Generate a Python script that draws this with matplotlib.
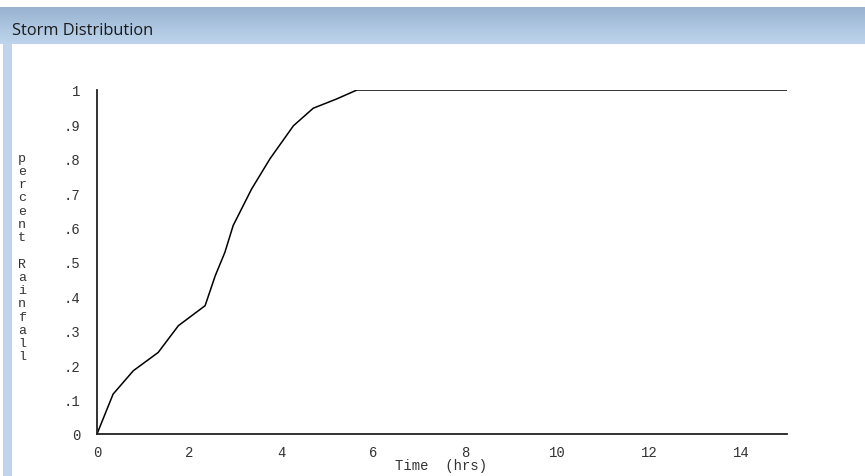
import numpy as np
import matplotlib
matplotlib.use("Agg")
import matplotlib.pyplot as plt

# Data
time_hrs = [0.0, 0.35, 0.79, 1.33, 1.77, 2.35, 2.57, 2.78, 2.96, 3.36, 3.76, 4.27, 4.70, 5.21, 5.65, 15.0]
pct_rain = [0.0, 0.116, 0.184, 0.237, 0.315, 0.373, 0.46, 0.528, 0.606, 0.712, 0.80, 0.896, 0.947, 0.974, 1.0, 1.0]
x_ticks = [0, 2, 4, 6, 8, 10, 12, 14]
y_ticks = [0, 0.1, 0.2, 0.3, 0.4, 0.5, 0.6, 0.7, 0.8, 0.9, 1.0]
y_tick_labels = ["0", ".1", ".2", ".3", ".4", ".5", ".6", ".7", ".8", ".9", "1"]
title = "Storm Distribution"
ylabel = "percent Rainfall"
xlabel = "Time  (hrs)"

W, H = 865, 477
fig = plt.figure(figsize=(W / 100, H / 100), dpi=100)
fig.patch.set_facecolor("white")

# Title bar gradient
bar = fig.add_axes([0, 1 - 45 / H, 1, 37 / H])
grad = np.linspace(0, 1, 64).reshape(-1, 1)
top = np.array([152, 178, 208]) / 255
bot = np.array([190, 213, 236]) / 255
img = top[None, None, :] * (1 - grad[..., None]) + bot[None, None, :] * grad[..., None]
img = np.repeat(img, 2, axis=1)
bar.imshow(img, aspect="auto", extent=[0, 1, 0, 1])
bar.set_axis_off()
fig.text(12 / W, 1 - 31 / H, title, fontsize=11.8, family="Open Sans", color="#1a1a1a", va="center")

# Left strip
strip = fig.add_axes([3 / W, 0, 9 / W, 1 - 45 / H])
strip.set_facecolor((0.76, 0.83, 0.92))
strip.set_xticks([]); strip.set_yticks([])
for s in strip.spines.values():
    s.set_visible(False)

ax = fig.add_axes([97 / W, 1 - 435 / H, 690 / W, 344 / H])
ax.plot(time_hrs, pct_rain, color="black", lw=1.1)
ax.set_xlim(0, 15)
ax.set_ylim(0, 1)
ax.set_xticks(x_ticks)
ax.set_xticklabels([str(v) for v in x_ticks], family="Liberation Mono", fontsize=10, color="#333333")
ax.set_yticks(y_ticks)
ax.set_yticklabels(y_tick_labels, family="Liberation Mono", fontsize=10, color="#333333")
ax.tick_params(length=0, pad=12)
ax.tick_params(axis="x", pad=8)
for s in ["top", "right"]:
    ax.spines[s].set_visible(False)
for s in ["left", "bottom"]:
    ax.spines[s].set_linewidth(1.3)
    ax.spines[s].set_color("#222222")

fig.text(441 / W, 1 - 466 / H, xlabel, family="Liberation Mono", fontsize=10, color="#333333",
         ha="center", va="center")
letters = "\n".join(list(ylabel))
fig.text(22 / W, 1 - 258 / H, letters, family="Liberation Mono", fontsize=9.5, color="#333333",
         ha="center", va="center", linespacing=1.14)

fig.savefig("out.png", dpi=100)
